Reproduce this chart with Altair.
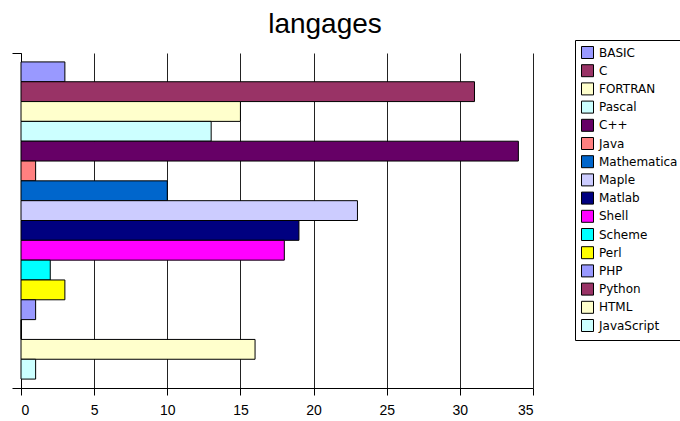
import altair as alt
import pandas as pd

languages = ["BASIC", "C", "FORTRAN", "Pascal", "C++", "Java", "Mathematica", "Maple",
             "Matlab", "Shell", "Scheme", "Perl", "PHP", "Python", "HTML", "JavaScript"]
counts = [3, 31, 15, 13, 34, 1, 10, 23, 19, 18, 2, 3, 1, 0, 16, 1]
colors = ["#9999FF", "#993366", "#FFFFCC", "#CCFFFF", "#660066", "#FF8080", "#0066CC", "#CCCCFF",
          "#000080", "#FF00FF", "#00FFFF", "#FFFF00", "#9999FF", "#993366", "#FFFFCC", "#CCFFFF"]
x_ticks = [0, 5, 10, 15, 20, 25, 30, 35]

df = pd.DataFrame({"langage": languages, "valeur": counts, "rang": list(range(len(languages)))})

chart = alt.Chart(df).transform_calculate(
    rang_fin="datum.rang + 1"
).mark_bar(stroke="black", strokeWidth=1, opacity=1).encode(
    x=alt.X("valeur:Q",
            scale=alt.Scale(domain=[0, 35], nice=False),
            axis=alt.Axis(values=x_ticks, title=None, grid=True, gridColor="#222222", gridWidth=1,
                          domainColor="black", tickColor="black", tickSize=7,
                          labelFont="Liberation Sans", labelFontSize=14, labelColor="black",
                          labelPadding=8, format="d")),
    x2=alt.datum(0),
    y=alt.Y("rang:Q",
            scale=alt.Scale(domain=[-0.45, 16.45], reverse=True, nice=False, zero=False),
            axis=alt.Axis(values=[-0.45, 16.45], labels=False, title=None, grid=False,
                          tickSize=9, domainColor="black", tickColor="black")),
    y2="rang_fin:Q",
    fill=alt.Fill("langage:N",
                  scale=alt.Scale(domain=languages, range=colors),
                  legend=alt.Legend(title=None, orient="none", legendX=554, legendY=-13,
                                    symbolType="square", symbolSize=144,
                                    symbolStrokeColor="black", symbolStrokeWidth=1,
                                    symbolOpacity=1,
                                    labelFont="DejaVu Sans", labelFontSize=12, labelColor="black",
                                    rowPadding=1.2, labelOffset=5, strokeColor="black",
                                    padding=6, fillColor="white")),
).properties(
    width=512,
    height=335,
    title=alt.TitleParams("langages", font="Liberation Sans", fontSize=28, fontWeight="normal",
                          color="black", anchor="middle", dx=48, offset=1),
    autosize=alt.AutoSizeParams(type="none"),
    padding={"left": 21, "top": 53, "right": 147, "bottom": 33},
).configure_view(strokeWidth=0)

chart.save("out.html", embed_options={"renderer": "svg", "actions": False})
